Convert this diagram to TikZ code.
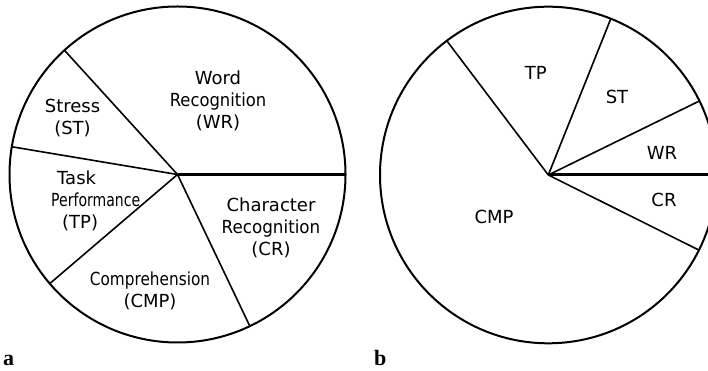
\documentclass[tikz,border=0pt]{standalone}
\usepackage{graphicx}
\usepackage{fontspec}
\newfontfamily\piefont{DejaVu Sans}
\newfontfamily\tagfont{Liberation Serif}
\newcommand\squeeze[2]{\scalebox{#1}[1]{#2}}
\begin{document}
\begin{tikzpicture}[x=1pt,y=1pt,
  rim/.style={line width=2pt},
  spoke/.style={line width=1.6pt},
  boldspoke/.style={line width=3pt},
  lbl/.style={font=\piefont\fontsize{18}{21.7}\selectfont, align=center, inner sep=0pt},
  tag/.style={font=\tagfont\bfseries\fontsize{22}{24}\selectfont, anchor=base west, inner sep=0pt}]
\useasboundingbox (0,0) rectangle (708,371);
\begin{scope}
\clip (0,0) rectangle (708,371);
% ---------- pie a ----------
\coordinate (ca) at (177.5,196.5);
\draw[rim] (ca) circle[radius=168];
\path (ca) ++(0:168) coordinate (a0)
      (ca) ++(132.3:168) coordinate (a1)
      (ca) ++(170.5:168) coordinate (a2)
      (ca) ++(220.5:168) coordinate (a3)
      (ca) ++(295.5:168) coordinate (a4);
\draw[boldspoke] (ca) -- (a0);
\draw[spoke] (ca) -- (a1);
\draw[spoke] (ca) -- (a2);
\draw[spoke] (ca) -- (a3);
\draw[spoke] (ca) -- (a4);
\node[lbl] (aWR) at (218,270) {Word\\\squeeze{0.91}{Recognition}\\(WR)};
\node[lbl] (aST) at (72.5,253) {Stress\\(ST)};
\node[lbl, align=left, anchor=west] (aTP) at (51,170) {\hspace*{6pt}Task\\\squeeze{0.78}{Performance}\\\hspace*{11pt}(TP)};
\node[lbl] (aCR) at (271,143) {Character\\\squeeze{0.93}{Recognition}\\(CR)};
\node[lbl] (aCMP) at (150,80) {\squeeze{0.85}{Comprehension}\\(CMP)};
% ---------- pie b ----------
\coordinate (cb) at (548.3,196);
\draw[rim] (cb) circle[radius=168.3];
\path (cb) ++(0:170) coordinate (b0)
      (cb) ++(127.1:168.3) coordinate (b1)
      (cb) ++(68.2:168.3) coordinate (b2)
      (cb) ++(26.1:168.3) coordinate (b3)
      (cb) ++(-26.5:168.3) coordinate (b4);
\draw[boldspoke] (cb) -- (b0);
\draw[spoke] (cb) -- (b1);
\draw[spoke] (cb) -- (b2);
\draw[spoke] (cb) -- (b3);
\draw[spoke] (cb) -- (b4);
\node[lbl] (bTP) at (535.7,298.3) {TP};
\node[lbl] (bST) at (617,274.3) {ST};
\node[lbl] (bWR) at (662,218) {WR};
\node[lbl] (bCR) at (664,171) {CR};
\node[lbl] (bCMP) at (494,154.3) {CMP};
\end{scope}
\node[tag] (ta) at (3,5) {a};
\node[tag] (tb) at (374,5) {b};
\end{tikzpicture}
\end{document}
